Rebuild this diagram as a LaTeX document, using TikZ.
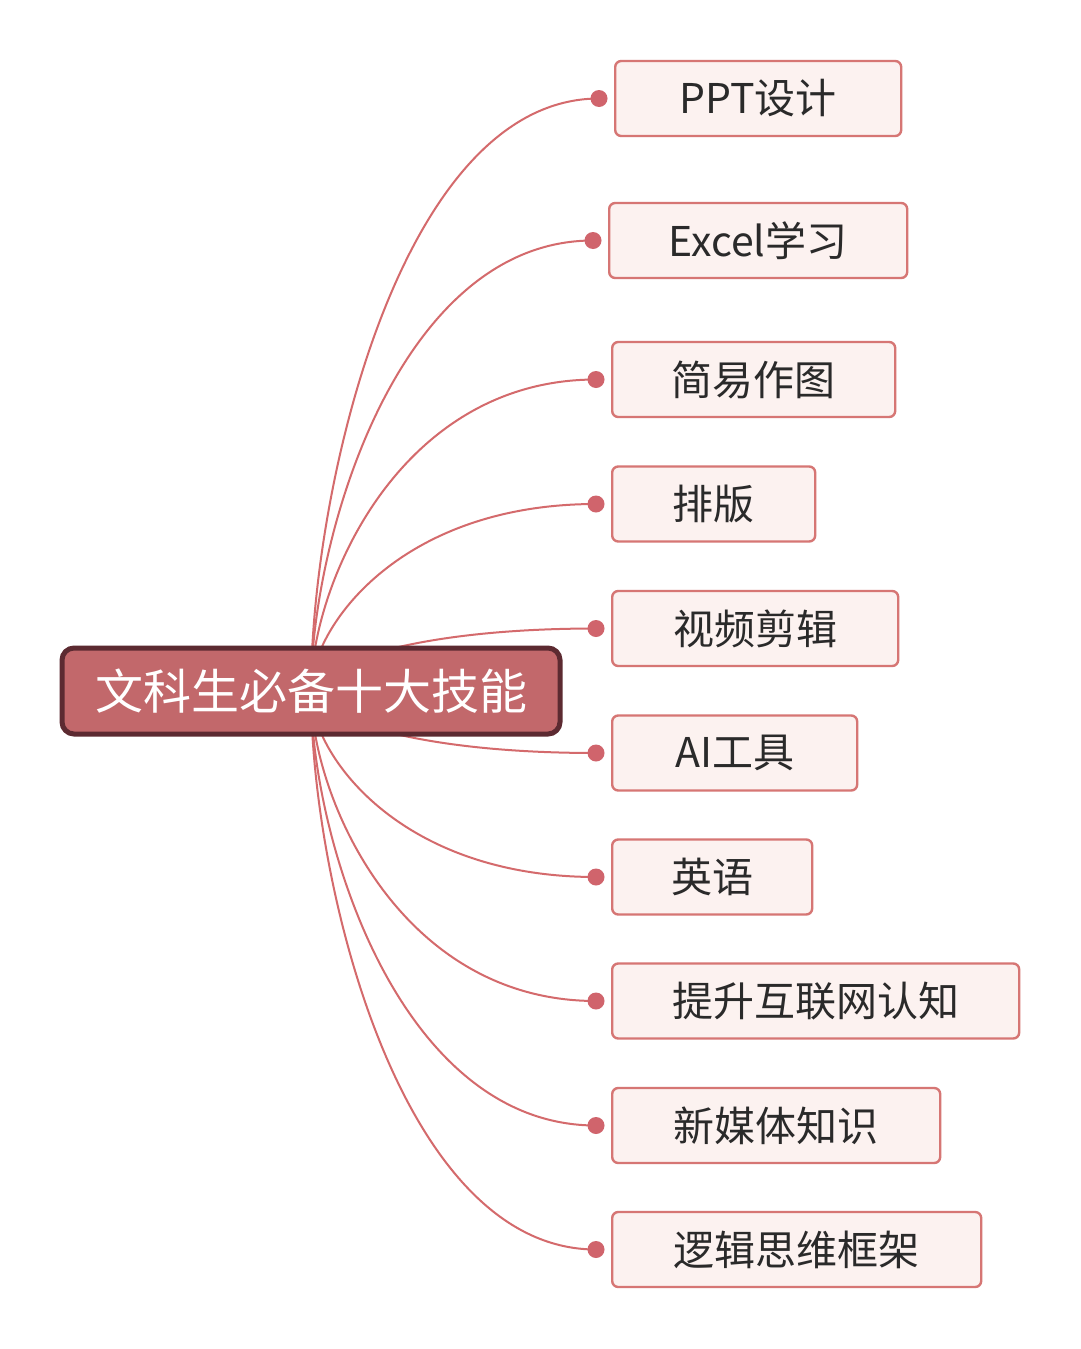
\documentclass[tikz,border=0pt]{standalone}
\usepackage{fontspec}
\setmainfont{Noto Sans CJK SC}
\usetikzlibrary{calc,backgrounds}
\definecolor{linkc}{HTML}{D46A6C}
\definecolor{dotc}{HTML}{D0646C}
\definecolor{boxline}{HTML}{D67674}
\definecolor{boxfill}{HTML}{FCF2F0}
\definecolor{rootfill}{HTML}{C2686B}
\definecolor{rootline}{HTML}{5C2A31}
\definecolor{leaftext}{HTML}{2A2A2A}
\tikzset{
  rootbox/.style={draw=rootline, line width=5pt, fill=rootfill, rounded corners=12pt,
    minimum width=498pt, minimum height=86pt, inner sep=0pt, text=white,
    font=\fontsize{48}{48}\selectfont},
  leafbox/.style={draw=boxline, line width=2.4pt, fill=boxfill, rounded corners=6pt,
    minimum height=75pt, inner sep=0pt, anchor=west, text=leaftext,
    font=\fontsize{41}{41}\selectfont},
  dotnode/.style={circle, fill=dotc, minimum size=17pt, inner sep=0pt},
  linkline/.style={draw=linkc, line width=2pt}
}
\begin{document}
\begin{tikzpicture}[x=1pt,y=-1pt]
\useasboundingbox (0,0) rectangle (1080,1349);
\node[rootbox] (c) at (311,691) {文科生必备十大技能};
\node[leafbox, minimum width=286pt] (b1) at (614,98.5) {PPT设计};
\node[leafbox, minimum width=298pt] (b2) at (608,240.5) {Excel学习};
\node[leafbox, minimum width=283pt] (b3) at (611,379.5) {简易作图};
\node[leafbox, minimum width=203pt] (b4) at (611,504) {排版};
\node[leafbox, minimum width=286pt] (b5) at (611,628.5) {视频剪辑};
\node[leafbox, minimum width=245pt] (b6) at (611,753) {AI工具};
\node[leafbox, minimum width=200pt] (b7) at (611,877) {英语};
\node[leafbox, minimum width=407pt] (b8) at (611,1001) {提升互联网认知};
\node[leafbox, minimum width=328pt] (b9) at (611,1125.5) {新媒体知识};
\node[leafbox, minimum width=369pt] (b10) at (611,1249.5) {逻辑思维框架};
\foreach \i in {1,...,10}{
  \node[dotnode] (d\i) at ([xshift=-15pt]b\i.west) {};
}
\begin{pgfonlayer}{background}
  \fill[white] (0,0) rectangle (1080,1349);
  \foreach \i in {1,...,10}{
    \draw[linkline] (c.center) .. controls ($(c.center)!0.34!(c.center|-d\i.center)$)
      and ($(c.center|-d\i.center)!0.31!(d\i.center)$) .. (d\i.center);
  }
\end{pgfonlayer}
\end{tikzpicture}
\end{document}
